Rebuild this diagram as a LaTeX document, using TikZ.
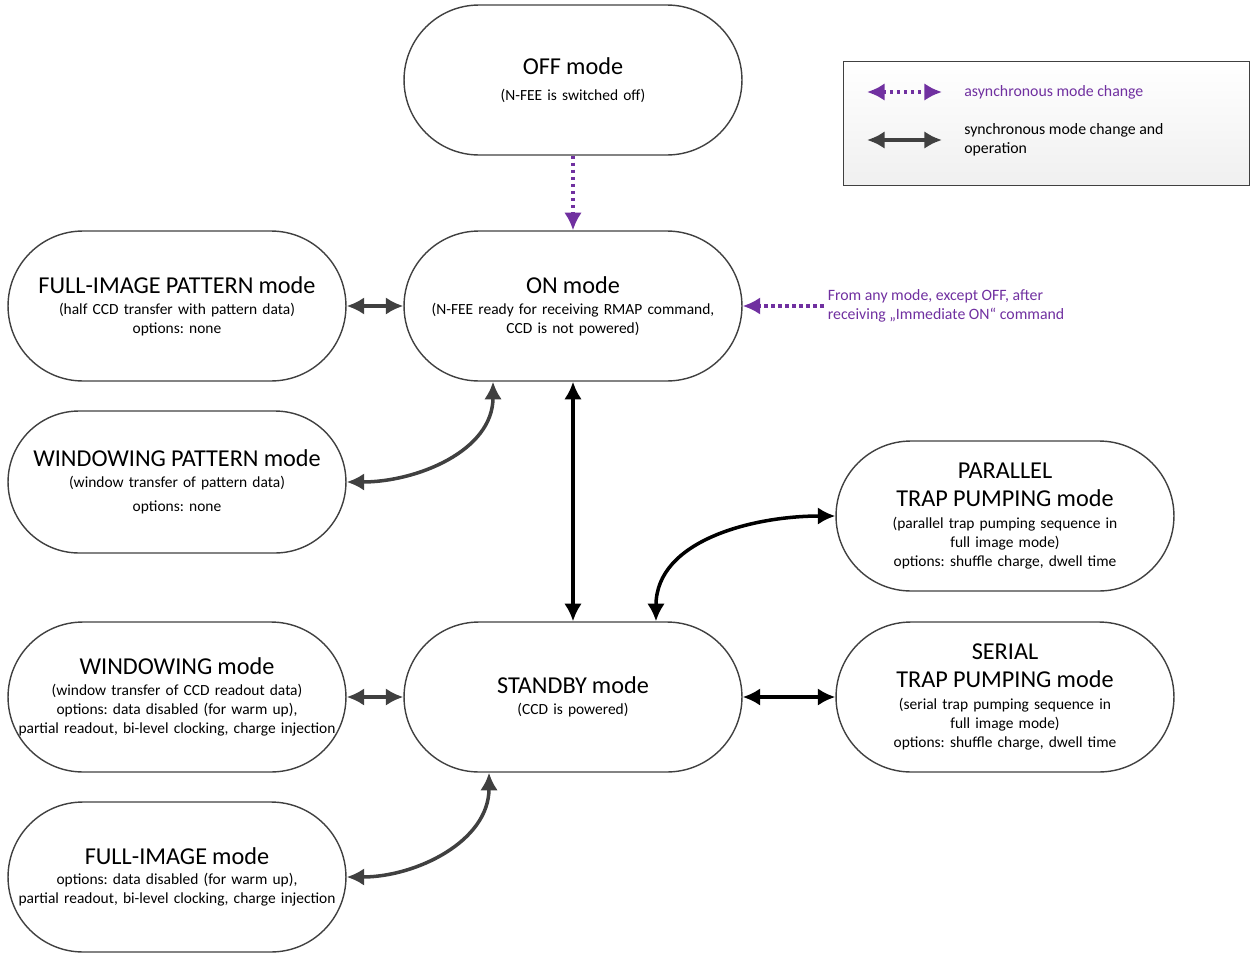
\documentclass[tikz,border=0pt]{standalone}
\usepackage{fontspec}
\setmainfont{Carlito}
\usetikzlibrary{positioning,arrows.meta}

\definecolor{asyncpurple}{HTML}{7030A0}
\definecolor{syncgrey}{HTML}{404040}
\newcommand{\mtitle}{\fontsize{13.8}{16}\selectfont}
\newcommand{\mtext}{\fontsize{8.8}{10.8}\selectfont}
\frenchspacing

\begin{document}
\begin{tikzpicture}[x=0.02cm,y=-0.02cm,>={Latex[length=10pt,width=10pt]},
  mode/.style={draw=syncgrey, line width=0.8pt, rectangle, rounded corners=1.5cm,
    minimum width=6.76cm, minimum height=3cm, text width=6.76cm, inner sep=0pt,
    align=center, font=\mtext},
  sync/.style={<->, syncgrey, line width=2pt},
  syncblack/.style={<->, black, line width=2pt},
  async/.style={->, asyncpurple, line width=2pt, dash pattern=on 2pt off 2pt}]
  \useasboundingbox (0,0) rectangle (1255,957);
  % Modes
  \node[mode] (off) at (573,80) {\rule{0pt}{6pt}{\mtitle OFF mode}\\[4pt] (N-FEE is switched off)};
  \node[mode] (on) at (573,306) {{\mtitle ON mode}\\[1pt] (N-FEE ready for receiving RMAP command,\\ CCD is not powered)};
  \node[mode] (fip) at (177,306) {{\mtitle FULL-IMAGE PATTERN mode}\\[1pt] (half CCD transfer with pattern data)\\ options: none};
  \node[mode, minimum height=2.84cm, rounded corners=1.42cm] (wp) at (177,482) {{\mtitle WINDOWING PATTERN mode}\\[1pt] (window transfer of pattern data)\\[3pt] options: none};
  \node[mode] (par) at (1005,516) {{\mtitle PARALLEL}\\[5pt] {\mtitle TRAP PUMPING mode}\\[2pt] (parallel trap pumping sequence in\\ full image mode)\\ options: shuffle charge, dwell time};
  \node[mode] (sb) at (573,697) {{\mtitle STANDBY mode}\\[1pt] (CCD is powered)};
  \node[mode] (win) at (177,697) {{\mtitle WINDOWING mode}\\[1pt] (window transfer of CCD readout data)\\ options: data disabled (for warm up),\\ partial readout, bi-level clocking, charge injection};
  \node[mode] (ser) at (1005,697) {{\mtitle SERIAL}\\[5pt] {\mtitle TRAP PUMPING mode}\\[2pt] (serial trap pumping sequence in\\ full image mode)\\ options: shuffle charge, dwell time};
  \node[mode] (fi) at (177,877) {{\mtitle FULL-IMAGE mode}\\[1pt] options: data disabled (for warm up),\\ partial readout, bi-level clocking, charge injection};
  \node[anchor=west, align=left, inner sep=2pt, text=asyncpurple, font=\fontsize{9}{10.8}\selectfont] (ext) at (824,306)
    {From any mode, except OFF, after\\ receiving „Immediate ON“ command};
  % Mode changes
  \draw[async] (off) -- (on);
  \draw[async] (ext) -- (on);
  \draw[sync] (fip) -- (on);
  \draw[sync] (wp.east) to[out=0, in=-90] ([xshift=-1.6cm]on.south);
  \draw[syncblack] (on) -- (sb);
  \draw[syncblack] ([xshift=1.66cm]sb.north) to[out=90, in=180] (par.west);
  \draw[syncblack] (sb) -- (ser);
  \draw[sync] (win) -- (sb);
  \draw[sync] (fi.east) to[out=0, in=-90] ([xshift=-1.68cm]sb.south);
  % Legend
  \node[draw=syncgrey, line width=0.8pt, top color=white, bottom color=black!6, anchor=north west,
    minimum width=8.12cm, minimum height=2.48cm, inner sep=0pt] (legend) at (843,61) {};
  \coordinate (a1) at (867,92);
  \coordinate (a2) at (942,92);
  \coordinate (s1) at (867,140);
  \coordinate (s2) at (942,140);
  \draw[async, <->] (a1) -- (a2);
  \draw[sync] (s1) -- (s2);
  \node[anchor=west, inner sep=0pt, text=asyncpurple, font=\fontsize{9}{10.8}\selectfont] (ltxt1) at (964,92) {asynchronous mode change};
  \node[anchor=west, inner sep=0pt, align=left, font=\fontsize{9}{10.8}\selectfont] (ltxt2) at (964,140) {synchronous mode change and\\ operation};
\end{tikzpicture}
\end{document}
